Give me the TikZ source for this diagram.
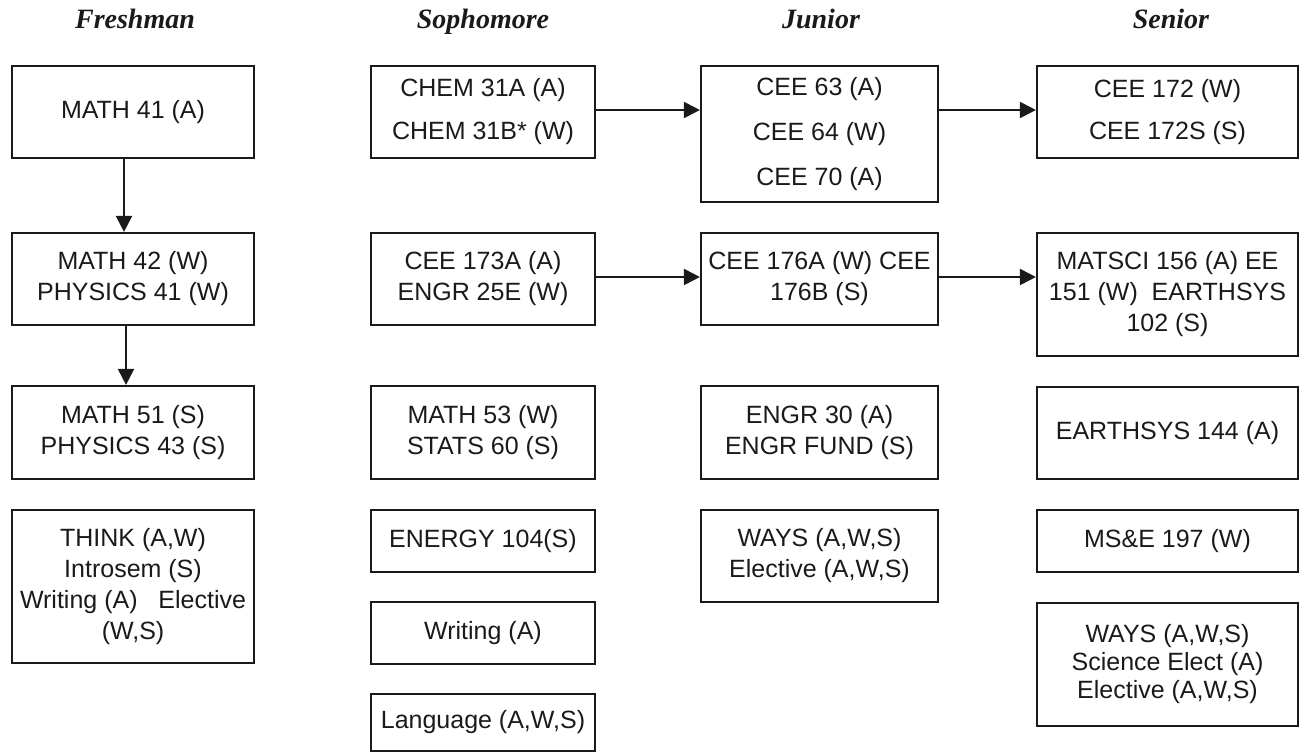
\documentclass[tikz,border=0pt]{standalone}
\usepackage{fontspec}
\setmainfont{Liberation Sans}
\newfontfamily\headfont{Liberation Serif}
\usetikzlibrary{arrows.meta}
\definecolor{ink}{HTML}{1A1A1A}
\tikzset{
  box/.style={draw=ink, line width=2.2pt, rectangle, inner sep=0pt, align=center, text=ink,
              font=\fontsize{25}{31}\selectfont},
  hdr/.style={anchor=base, text=ink, font=\headfont\fontsize{28}{30}\selectfont\bfseries\itshape},
  conn/.style={draw=ink, line width=2pt, -{Triangle[length=16pt,width=16pt]}}
}
\begin{document}
\begin{tikzpicture}[x=1pt,y=-1pt]
\useasboundingbox (0,0) rectangle (1302,753);
% headers
\node[hdr] (hF) at (135,28) {Freshman};
\node[hdr] (hS) at (483,28) {Sophomore};
\node[hdr] (hJ) at (821,28) {Junior};
\node[hdr] (hN) at (1171,28) {Senior};
% Freshman
\node[box, minimum width=242, minimum height=92] (F1) at (133,112) {MATH 41 (A)};
\node[box, minimum width=242, minimum height=92] (F2) at (133,279) {MATH 42 (W)\\PHYSICS 41 (W)};
\node[box, minimum width=242, minimum height=93] (F3) at (133,432.5) {MATH 51 (S)\\PHYSICS 43 (S)};
\node[box, minimum width=242, minimum height=153] (F4) at (133,586.5) {THINK (A,W)\\Introsem (S)\\Writing (A)\ \ \ Elective\\(W,S)};
% Sophomore
\node[box, minimum width=224, minimum height=92] (S1) at (483,112) {CHEM 31A (A)\\[12pt]CHEM 31B* (W)};
\node[box, minimum width=224, minimum height=92] (S2) at (483,279) {CEE 173A (A)\\ENGR 25E (W)};
\node[box, minimum width=224, minimum height=93] (S3) at (483,432.5) {MATH 53 (W)\\STATS 60 (S)};
\node[box, minimum width=224, minimum height=62] (S4) at (483,541) {ENERGY 104(S)};
\node[box, minimum width=224, minimum height=62] (S5) at (483,633) {Writing (A)};
\node[box, minimum width=224, minimum height=57] (S6) at (483,722.5) {Language (A,W,S)};
% Junior
\node[box, minimum width=237, minimum height=136] (J1) at (819.5,134) {CEE 63 (A)\\[14pt]CEE 64 (W)\\[14pt]CEE 70 (A)};
\node[box, minimum width=237, minimum height=92] (J2) at (819.5,279) {CEE 176A (W) CEE\\176B (S)};
\node[box, minimum width=237, minimum height=93] (J3) at (819.5,432.5) {ENGR 30 (A)\\ENGR FUND (S)};
\node[box, minimum width=237, minimum height=92] (J4) at (819.5,556) {WAYS (A,W,S)\\Elective (A,W,S)};
% Senior
\node[box, minimum width=261, minimum height=92] (N1) at (1167.5,112) {CEE 172 (W)\\[11pt]CEE 172S (S)};
\node[box, minimum width=261, minimum height=123] (N2) at (1167.5,294.5) {MATSCI 156 (A) EE\\151 (W)\ \ EARTHSYS\\102 (S)};
\node[box, minimum width=261, minimum height=92] (N3) at (1167.5,433) {EARTHSYS 144 (A)};
\node[box, minimum width=261, minimum height=62] (N4) at (1167.5,541) {MS\&E 197 (W)};
\node[box, minimum width=261, minimum height=123, font=\fontsize{25}{28}\selectfont] (N5) at (1167.5,664.5) {WAYS (A,W,S)\\Science Elect (A)\\Elective (A,W,S)};
% connectors
\draw[conn] ([xshift=-9pt]F1.south) -- ([xshift=-9pt]F2.north);
\draw[conn] ([xshift=-7pt]F2.south) -- ([xshift=-7pt]F3.north);
\draw[conn] ([yshift=2pt]S1.east) -- ([yshift=2pt]S1.east -| J1.west);
\draw[conn] ([yshift=2pt]J1.east |- N1.west) -- ([yshift=2pt]N1.west);
\draw[conn] ([yshift=2pt]S2.east) -- ([yshift=2pt]S2.east -| J2.west);
\draw[conn] ([yshift=2pt]J2.east) -- ([yshift=2pt]J2.east -| N2.west);
\end{tikzpicture}
\end{document}
